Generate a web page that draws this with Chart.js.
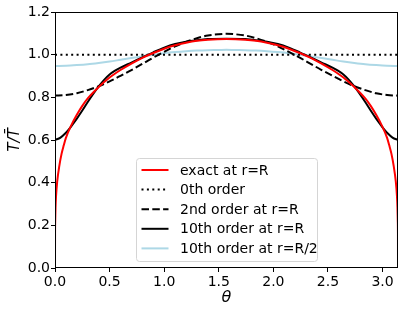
<!DOCTYPE html>
<html>
<head>
<meta charset="utf-8">
<script src="https://cdn.jsdelivr.net/npm/chart.js@4"></script>
<style>
  html, body { margin: 0; padding: 0; background: #fff; }
</style>
</head>
<body>
<canvas id="tempChart" width="409" height="314"></canvas>
<script>
// Temperature profiles T/T̄ versus polar angle θ

// exact solution at r=R (steep near the poles, so sampled finer there)
const thetaExact = [0, 0.0005, 0.002, 0.005, 0.01, 0.02, 0.04, 0.06, 0.08, 0.1, 0.15, 0.2, 0.25, 0.3, 0.4, 0.5, 0.6, 0.7, 0.8, 0.9, 1.0, 1.1, 1.2, 1.3, 1.4, 1.5708,
  1.7416, 1.8416, 1.9416, 2.0416, 2.1416, 2.2416, 2.3416, 2.4416, 2.5416, 2.6416, 2.7416, 2.8416, 2.8916, 2.9416, 2.9916, 3.0416, 3.0616, 3.0816, 3.1016, 3.1216, 3.1316, 3.1366, 3.1396, 3.1411, 3.1416];
const exactR = [0, 0.16, 0.22, 0.285, 0.34, 0.405, 0.48, 0.535, 0.575, 0.61, 0.67, 0.718, 0.76, 0.795, 0.848, 0.893, 0.928, 0.958, 0.985, 1.008, 1.028, 1.044, 1.056, 1.065, 1.07, 1.073,
  1.07, 1.065, 1.056, 1.044, 1.028, 1.008, 0.985, 0.958, 0.928, 0.893, 0.848, 0.795, 0.76, 0.718, 0.67, 0.61, 0.575, 0.535, 0.48, 0.405, 0.34, 0.285, 0.22, 0.16, 0];

// 0th order is flat
const thetaFlat = [0, 3.1416];
const order0 = [1.0, 1.0];

// 2nd order and 10th order at R/2 share one grid
const thetaGrid = [0, 0.1, 0.2, 0.3, 0.4, 0.5, 0.6, 0.7, 0.8, 0.9, 1.0, 1.1, 1.2, 1.3, 1.4, 1.5, 1.5708,
  1.6416, 1.7416, 1.8416, 1.9416, 2.0416, 2.1416, 2.2416, 2.3416, 2.4416, 2.5416, 2.6416, 2.7416, 2.8416, 2.9416, 3.0416, 3.1416];
const order2R = [0.808, 0.811, 0.819, 0.834, 0.852, 0.875, 0.901, 0.928, 0.957, 0.986, 1.013, 1.039, 1.06, 1.077, 1.09, 1.096, 1.098,
  1.096, 1.09, 1.077, 1.06, 1.039, 1.013, 0.986, 0.957, 0.928, 0.901, 0.875, 0.852, 0.834, 0.819, 0.811, 0.808];
const order10Half = [0.947, 0.948, 0.951, 0.955, 0.961, 0.968, 0.976, 0.984, 0.992, 1.0, 1.007, 1.012, 1.016, 1.019, 1.021, 1.022, 1.023,
  1.022, 1.021, 1.019, 1.016, 1.012, 1.007, 1.0, 0.992, 0.984, 0.976, 0.968, 0.961, 0.955, 0.951, 0.948, 0.947];

// 10th order at r=R
const theta10 = [0, 0.05, 0.1, 0.125, 0.15, 0.2, 0.25, 0.3, 0.35, 0.4, 0.45, 0.5, 0.55, 0.6, 0.7, 0.8, 0.9, 1.0, 1.1, 1.2, 1.3, 1.4, 1.5708,
  1.7416, 1.8416, 1.9416, 2.0416, 2.1416, 2.2416, 2.3416, 2.4416, 2.5416, 2.5916, 2.6416, 2.6916, 2.7416, 2.7916, 2.8416, 2.8916, 2.9416, 2.9916, 3.0166, 3.0416, 3.0916, 3.1416];
const order10R = [0.600, 0.611, 0.634, 0.648, 0.665, 0.700, 0.738, 0.778, 0.816, 0.851, 0.882, 0.907, 0.925, 0.939, 0.963, 0.987, 1.011, 1.033, 1.05, 1.061, 1.068, 1.073, 1.075,
  1.073, 1.068, 1.061, 1.05, 1.033, 1.011, 0.987, 0.963, 0.939, 0.925, 0.907, 0.882, 0.851, 0.816, 0.778, 0.738, 0.700, 0.665, 0.648, 0.634, 0.611, 0.600];

const xTicks = [0, 0.5, 1.0, 1.5, 2.0, 2.5, 3.0];
const yTicks = [0, 0.2, 0.4, 0.6, 0.8, 1.0, 1.2];
const seriesLabels = ['exact at r=R', '0th order', '2nd order at r=R', '10th order at r=R', '10th order at r=R/2'];

const FONT = 'DejaVu Sans';
Chart.defaults.color = '#000';
Chart.defaults.font.family = FONT;

function pts(xs, ys) {
    return xs.map((x, i) => ({ x: x, y: ys[i] }));
}

function series(label, xs, ys, color, dash) {
    return {
        label: label,
        data: pts(xs, ys),
        borderColor: color,
        borderWidth: 2,
        borderDash: dash,
        pointRadius: 0,
        fill: false,
        cubicInterpolationMode: 'monotone'
    };
}

// frame on all four sides, like the matplotlib spines
const framePlugin = {
    id: 'frame',
    afterDatasetsDraw(chart) {
        const a = chart.chartArea;
        const ctx = chart.ctx;
        ctx.save();
        ctx.strokeStyle = '#000';
        ctx.lineWidth = 1;
        ctx.strokeRect(a.left + 0.5, a.top + 0.5, a.right - a.left - 1, a.bottom - a.top - 1);
        ctx.restore();
    }
};

// legend box inside the axes, lower middle
const boxLegend = {
    id: 'boxLegend',
    afterDraw(chart) {
        const ctx = chart.ctx;
        const bx = 136.5, by = 158.5, bw = 181, bh = 103;
        ctx.save();
        ctx.beginPath();
        ctx.roundRect(bx, by, bw, bh, 3);
        ctx.fillStyle = 'rgba(255,255,255,0.8)';
        ctx.fill();
        ctx.strokeStyle = '#d5d5d5';
        ctx.lineWidth = 1;
        ctx.stroke();
        ctx.font = '14px "' + FONT + '"';
        ctx.textBaseline = 'middle';
        chart.data.datasets.forEach((ds, i) => {
            const y = 170 + i * 19.6;
            ctx.beginPath();
            ctx.setLineDash(ds.borderDash || []);
            ctx.strokeStyle = ds.borderColor;
            ctx.lineWidth = ds.borderWidth;
            ctx.moveTo(141.5, y);
            ctx.lineTo(168.5, y);
            ctx.stroke();
            ctx.setLineDash([]);
            ctx.fillStyle = '#000';
            ctx.fillText(ds.label, 180, y + 1);
        });
        ctx.restore();
    }
};

const tickGrid = { display: true, drawOnChartArea: false, drawTicks: true, tickLength: 4, color: '#000', lineWidth: 1 };

new Chart(document.getElementById('tempChart'), {
    type: 'line',
    data: {
        datasets: [
            series(seriesLabels[0], thetaExact, exactR, '#ff0000', []),
            series(seriesLabels[1], thetaFlat, order0, '#000000', [2, 3.4]),
            series(seriesLabels[2], thetaGrid, order2R, '#000000', [7.5, 3.3]),
            series(seriesLabels[3], theta10, order10R, '#000000', []),
            series(seriesLabels[4], thetaGrid, order10Half, '#add8e6', [])
        ]
    },
    options: {
        responsive: false,
        animation: false,
        devicePixelRatio: 1,
        layout: { padding: { top: 12, right: 11, left: 0, bottom: 0 } },
        plugins: {
            legend: { display: false },
            tooltip: { enabled: false }
        },
        scales: {
            x: {
                type: 'linear',
                min: 0,
                max: Math.PI,
                afterBuildTicks: s => { s.ticks = xTicks.map(v => ({ value: v })); },
                afterFit: s => { s.height = 46; },
                ticks: { callback: v => v.toFixed(1), font: { size: 14 }, padding: 2, maxRotation: 0, autoSkip: false },
                grid: tickGrid,
                border: { display: false },
                title: { display: true, text: 'θ', font: { size: 16, style: 'italic' }, padding: { top: 0, bottom: 7 } }
            },
            y: {
                type: 'linear',
                min: 0,
                max: 1.2,
                afterBuildTicks: s => { s.ticks = yTicks.map(v => ({ value: v })); },
                afterFit: s => { s.width = 55; },
                ticks: { callback: v => v.toFixed(1), font: { size: 14 }, padding: 1, autoSkip: false },
                grid: tickGrid,
                border: { display: false },
                title: { display: true, text: 'T/T\u0304', font: { size: 15, style: 'italic' }, padding: { top: 6, bottom: 0 } }
            }
        }
    },
    plugins: [framePlugin, boxLegend]
});
</script>
</body>
</html>
